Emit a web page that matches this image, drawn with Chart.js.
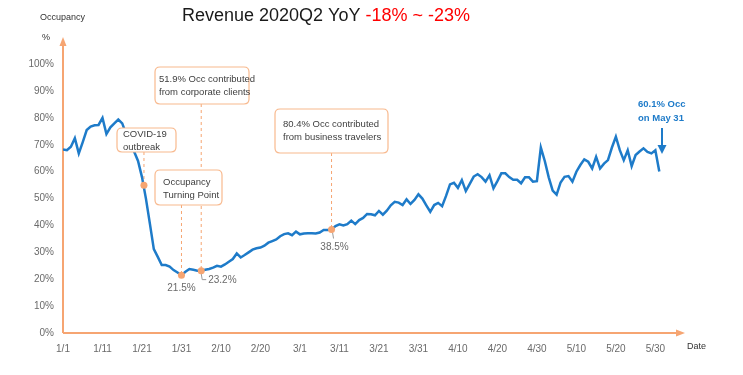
<!DOCTYPE html>
<html>
<head>
<meta charset="utf-8">
<script src="https://cdn.jsdelivr.net/npm/chart.js@4/dist/chart.umd.min.js"></script>
<style>
  html, body { margin: 0; padding: 0; background: #fff; }
  #wrap { width: 743px; height: 375px; position: relative; }
</style>
</head>
<body>
<div id="wrap"><canvas id="chart" width="743" height="375"></canvas></div>
<script>
// daily occupancy (%), 1/1 .. 5/31 2020, one value per day
const occupancy = [
  68.3, 68, 69.3, 72.5, 66.8, 71, 75.5, 76.8, 77.3, 77.4,
  80, 74, 76.5, 78, 79.4, 78, 74, 71, 67.5, 64,
  58, 50, 40.7, 31.2, 28.3, 25.3, 25.3, 24.7, 23.4, 22.5,
  21.5, 22.8, 23.8, 23.5, 23.2, 23.2, 23.5, 23.8, 24.3, 25,
  24.7, 25.5, 26.5, 27.5, 29.6, 28.1, 29, 30, 31, 31.5,
  31.8, 32.5, 33.6, 34.2, 34.8, 36, 36.8, 37.1, 36.4, 37.7,
  36.7, 37, 37.1, 37.1, 37, 37.4, 38.3, 38.3, 38.5, 39.8,
  40.4, 40, 40.5, 41.8, 40.5, 42, 42.8, 44.3, 44.2, 43.8,
  45.4, 44, 45.5, 47.5, 48.8, 48.5, 47.6, 49.7, 48, 49.5,
  51.6, 50, 47.5, 45.1, 47.6, 48.4, 47.2, 51, 55.3, 55.9,
  54, 56.9, 52.8, 55.5, 58.2, 59.1, 58, 56.3, 58.7, 53.8,
  56.5, 59.4, 59.4, 58, 57, 57, 55.7, 57.9, 57.9, 56.3,
  56.5, 69, 64, 57.9, 53, 51.5, 56, 58.1, 58.4, 56.3,
  60, 62.5, 64.6, 63.7, 61.2, 65.5, 61.2, 63, 64.3, 69,
  73, 68, 64.3, 68, 62.1, 66.2, 67.5, 68.7, 67.4, 66.8,
  68, 60.1
];
const dateTicks = ['1/1', '1/11', '1/21', '1/31', '2/10', '2/20', '3/1', '3/11',
  '3/21', '3/31', '4/10', '4/20', '4/30', '5/10', '5/20', '5/30'];

// highlighted points (day index from 1/1, value)
const markerDays = [20.5, 30, 35, 68];
const markerValues = [55, 21.5, 23.2, 38.5];

const ORANGE = '#F6A572';
const BOX = '#F8B98E';
const BLUE = '#1E7BC9';
const GREY = '#6a6a6a';
const FONT = '"Liberation Sans", Arial, sans-serif';

const lineData = occupancy.map((v, i) => ({ x: i, y: v }));
const markerData = markerDays.map((d, i) => ({ x: d, y: markerValues[i] }));

function roundBox(ctx, x, y, w, h, r) {
  ctx.beginPath();
  ctx.moveTo(x + r, y);
  ctx.lineTo(x + w - r, y);
  ctx.quadraticCurveTo(x + w, y, x + w, y + r);
  ctx.lineTo(x + w, y + h - r);
  ctx.quadraticCurveTo(x + w, y + h, x + w - r, y + h);
  ctx.lineTo(x + r, y + h);
  ctx.quadraticCurveTo(x, y + h, x, y + h - r);
  ctx.lineTo(x, y + r);
  ctx.quadraticCurveTo(x, y, x + r, y);
  ctx.closePath();
  ctx.fillStyle = '#fff';
  ctx.fill();
  ctx.strokeStyle = BOX;
  ctx.lineWidth = 1.2;
  ctx.stroke();
}

function dashed(ctx, x, y1, y2) {
  ctx.save();
  ctx.strokeStyle = ORANGE;
  ctx.lineWidth = 1;
  ctx.setLineDash([3, 3]);
  ctx.beginPath();
  ctx.moveTo(x, y1);
  ctx.lineTo(x, y2);
  ctx.stroke();
  ctx.restore();
}

function note(ctx, lines, x, y, w, h, tx, ty) {
  roundBox(ctx, x, y, w, h, 5);
  ctx.fillStyle = '#404040';
  ctx.font = '9.5px ' + FONT;
  ctx.textAlign = 'left';
  ctx.textBaseline = 'middle';
  lines.forEach((t, i) => ctx.fillText(t, tx, ty + i * 12.5));
}

const decor = {
  id: 'decor',
  beforeDatasetsDraw(chart) {
    const ctx = chart.ctx;
    const xs = chart.scales.x, ys = chart.scales.y;
    const ca = chart.chartArea;
    const px = markerDays.map(d => xs.getPixelForValue(d));
    const py = markerValues.map(v => ys.getPixelForValue(v));

    // axes with arrows
    ctx.save();
    ctx.strokeStyle = ORANGE;
    ctx.fillStyle = ORANGE;
    ctx.lineWidth = 2;
    ctx.beginPath();
    ctx.moveTo(ca.left, ca.bottom);
    ctx.lineTo(ca.left, ca.top + 4);
    ctx.moveTo(ca.left, ca.bottom);
    ctx.lineTo(ca.right - 4, ca.bottom);
    ctx.stroke();
    ctx.beginPath();
    ctx.moveTo(ca.left, ca.top - 3);
    ctx.lineTo(ca.left - 3.5, ca.top + 6);
    ctx.lineTo(ca.left + 3.5, ca.top + 6);
    ctx.fill();
    ctx.beginPath();
    ctx.moveTo(ca.right + 2, ca.bottom);
    ctx.lineTo(ca.right - 7, ca.bottom - 3.5);
    ctx.lineTo(ca.right - 7, ca.bottom + 3.5);
    ctx.fill();
    ctx.restore();

    // dashed leaders
    dashed(ctx, px[0], 152, py[0]);
    dashed(ctx, px[1], 205, py[1]);
    dashed(ctx, px[2], 104, py[2]);
    dashed(ctx, px[3], 153, py[3]);

    // value labels with small leaders
    ctx.save();
    ctx.strokeStyle = '#9a9a9a';
    ctx.lineWidth = 1;
    ctx.beginPath();
    ctx.moveTo(px[2], py[2] + 3);
    ctx.lineTo(px[2] + 1, py[2] + 9);
    ctx.lineTo(px[2] + 5, py[2] + 9);
    ctx.moveTo(px[3] + 1, py[3] + 3);
    ctx.lineTo(px[3] + 2, py[3] + 9);
    ctx.stroke();
    ctx.fillStyle = GREY;
    ctx.font = '10px ' + FONT;
    ctx.textBaseline = 'middle';
    ctx.textAlign = 'center';
    ctx.fillText(markerValues[1] + '%', px[1], py[1] + 13);
    ctx.fillText(markerValues[3] + '%', px[3] + 3, py[3] + 18);
    ctx.textAlign = 'left';
    ctx.fillText(markerValues[2] + '%', px[2] + 7, py[2] + 10);
    ctx.restore();
  },
  afterDatasetsDraw(chart) {
    const ctx = chart.ctx;
    // note boxes sit above the line
    note(ctx, ['COVID-19', 'outbreak'], 117, 128, 59, 24, 123, 134.5);
    note(ctx, ['51.9% Occ contributed', 'from corporate clients'], 155, 67, 94, 37, 159, 79.5);
    note(ctx, ['Occupancy', 'Turning Point'], 155, 170, 67, 35, 163, 182.5);
    note(ctx, ['80.4% Occ contributed', 'from business travelers'], 275, 109, 113, 44, 283, 124.5);
  },
  afterDraw(chart) {
    const ctx = chart.ctx;
    const ca = chart.chartArea;
    ctx.save();
    // title
    ctx.font = '18px ' + FONT;
    ctx.textBaseline = 'middle';
    ctx.textAlign = 'left';
    const a = 'Revenue 2020Q2 YoY ', b = '-18% ~ -23%';
    const wa = ctx.measureText(a).width, wb = ctx.measureText(b).width;
    let x0 = 326 - (wa + wb) / 2;
    ctx.fillStyle = '#1a1a1a';
    ctx.fillText(a, x0, 16);
    ctx.fillStyle = '#FF0000';
    ctx.fillText(b, x0 + wa, 16);

    // axis names
    ctx.fillStyle = '#333';
    ctx.font = '9px ' + FONT;
    ctx.fillText('Occupancy', 40, 18);
    ctx.fillText('%', 42, 38);
    ctx.fillText('Date', ca.right + 4, ca.bottom + 14);

    // end-point callout
    ctx.fillStyle = BLUE;
    ctx.font = 'bold 9.5px ' + FONT;
    ctx.textAlign = 'left';
    ctx.fillText('60.1% Occ', 638, 104);
    ctx.fillText('on May 31', 638, 118);
    ctx.strokeStyle = BLUE;
    ctx.lineWidth = 2;
    ctx.beginPath();
    ctx.moveTo(662, 128);
    ctx.lineTo(662, 147);
    ctx.stroke();
    ctx.beginPath();
    ctx.moveTo(662, 154);
    ctx.lineTo(657.5, 145);
    ctx.lineTo(666.5, 145);
    ctx.fill();
    ctx.restore();
  }
};

new Chart(document.getElementById('chart'), {
  type: 'line',
  data: {
    datasets: [
      {
        data: markerData,
        showLine: false,
        pointRadius: 3.5,
        pointBackgroundColor: ORANGE,
        pointBorderWidth: 0,
        order: 0
      },
      {
        data: lineData,
        borderColor: BLUE,
        borderWidth: 2.5,
        pointRadius: 0,
        tension: 0,
        order: 1
      }
    ]
  },
  options: {
    responsive: false,
    animation: false,
    layout: { padding: { left: 0, right: 60, top: 40, bottom: 0 } },
    plugins: { legend: { display: false }, tooltip: { enabled: false } },
    scales: {
      x: {
        type: 'linear',
        min: 0,
        max: 157,
        afterFit: s => { s.height = 42; },
        grid: { display: false },
        border: { display: false },
        ticks: {
          stepSize: 10,
          includeBounds: false,
          autoSkip: false,
          maxRotation: 0,
          padding: 2,
          color: GREY,
          font: { size: 10, family: FONT },
          callback: v => (v % 10 === 0 && dateTicks[v / 10]) ? dateTicks[v / 10] : ''
        }
      },
      y: {
        min: 0,
        max: 109,
        afterFit: s => { s.width = 63; },
        grid: { display: false },
        border: { display: false },
        ticks: {
          stepSize: 10,
          includeBounds: false,
          padding: 1,
          color: GREY,
          font: { size: 10, family: FONT },
          callback: v => v <= 100 ? v + '%' : ''
        }
      }
    }
  },
  plugins: [decor]
});
</script>
</body>
</html>
